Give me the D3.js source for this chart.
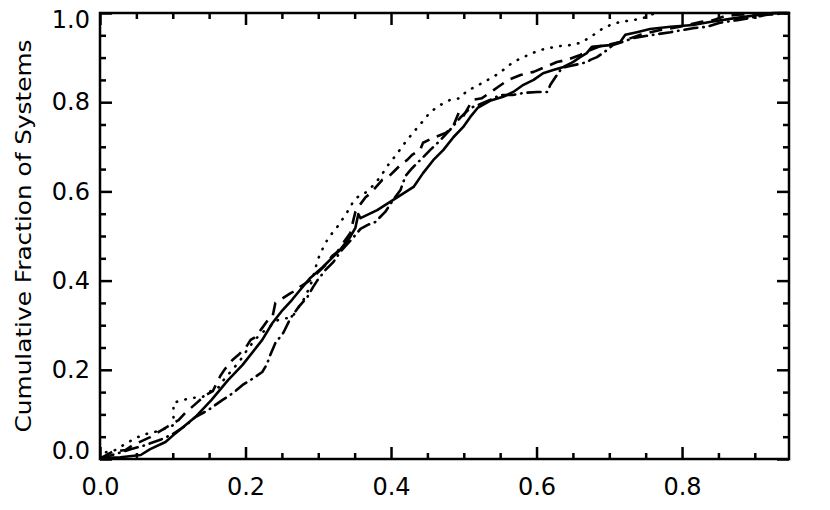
<!DOCTYPE html>
<html>
<head>
<meta charset="utf-8">
<script src="https://cdn.jsdelivr.net/npm/d3@7"></script>
<style>
  body { margin: 0; background: #fff; }
  svg text { font-family: 'DejaVu Sans', sans-serif; font-weight: normal; fill: #000; }
</style>
</head>
<body>
<svg id="chart" width="830" height="510"></svg>
<script>
// cumulative fraction curves
const solidX = [0.001,0.028,0.056,0.069,0.090,0.104,0.131,0.153,0.176,0.196,0.223,0.237,0.251,0.264,0.275,0.289,0.306,0.330,0.344,0.351,0.355,0.358,0.381,0.409,0.431,0.444,0.458,0.472,0.486,0.499,0.509,0.519,0.536,0.554,0.568,0.582,0.596,0.609,0.623,0.637,0.650,0.660,0.669,0.676,0.701,0.715,0.722,0.738,0.756,0.784,0.815,0.838,0.875,0.907,0.925,0.947]
const solidY = [0.002,0.004,0.009,0.022,0.038,0.058,0.094,0.132,0.177,0.211,0.267,0.305,0.334,0.357,0.379,0.406,0.430,0.469,0.498,0.518,0.549,0.540,0.558,0.587,0.610,0.641,0.670,0.693,0.722,0.744,0.767,0.787,0.803,0.812,0.823,0.839,0.850,0.865,0.872,0.879,0.890,0.901,0.910,0.924,0.928,0.935,0.951,0.957,0.964,0.969,0.973,0.980,0.989,0.996,1.0,1.0]

const dashedX = [0.001,0.017,0.035,0.045,0.069,0.090,0.108,0.117,0.131,0.145,0.155,0.166,0.171,0.182,0.190,0.200,0.207,0.214,0.223,0.231,0.237,0.241,0.248,0.262,0.271,0.275,0.289,0.296,0.310,0.319,0.326,0.334,0.344,0.351,0.355,0.365,0.372,0.388,0.396,0.406,0.416,0.422,0.429,0.440,0.444,0.458,0.475,0.485,0.493,0.498,0.512,0.525,0.541,0.547,0.561,0.578,0.596,0.609,0.628,0.642,0.660,0.674,0.688,0.697,0.715,0.742,0.770,0.797,0.825,0.843,0.859,0.876,0.907,0.935,0.947]
const dashedY = [0.002,0.016,0.020,0.031,0.049,0.070,0.087,0.103,0.123,0.143,0.152,0.188,0.200,0.222,0.233,0.249,0.267,0.274,0.294,0.312,0.318,0.350,0.357,0.372,0.379,0.386,0.401,0.413,0.435,0.455,0.464,0.484,0.507,0.554,0.565,0.587,0.596,0.626,0.632,0.648,0.664,0.670,0.682,0.693,0.709,0.720,0.731,0.744,0.776,0.765,0.805,0.809,0.827,0.834,0.850,0.861,0.868,0.877,0.890,0.895,0.906,0.917,0.926,0.928,0.935,0.951,0.962,0.969,0.980,0.984,0.993,0.996,0.998,1.0,1.0]

const dottedX = [0.001,0.003,0.021,0.039,0.058,0.076,0.093,0.101,0.101,0.113,0.127,0.141,0.148,0.155,0.163,0.172,0.182,0.193,0.204,0.215,0.227,0.245,0.264,0.275,0.282,0.292,0.299,0.307,0.314,0.326,0.340,0.347,0.354,0.364,0.376,0.385,0.396,0.409,0.420,0.431,0.443,0.454,0.468,0.481,0.495,0.505,0.516,0.527,0.541,0.554,0.568,0.582,0.594,0.605,0.619,0.633,0.646,0.660,0.674,0.688,0.701,0.715,0.733,0.747,0.763]
const dottedY = [0.002,0.013,0.020,0.038,0.054,0.061,0.070,0.076,0.126,0.132,0.137,0.139,0.148,0.155,0.161,0.182,0.200,0.222,0.249,0.271,0.289,0.312,0.318,0.345,0.363,0.401,0.446,0.475,0.496,0.520,0.554,0.574,0.587,0.596,0.614,0.632,0.659,0.686,0.711,0.733,0.756,0.778,0.794,0.805,0.809,0.827,0.834,0.845,0.857,0.872,0.890,0.901,0.910,0.917,0.922,0.926,0.928,0.933,0.946,0.962,0.973,0.980,0.984,0.989,1.0]

const dashDotX = [0.001,0.021,0.042,0.062,0.083,0.100,0.117,0.131,0.149,0.168,0.183,0.196,0.207,0.223,0.229,0.234,0.241,0.252,0.262,0.273,0.285,0.293,0.299,0.310,0.321,0.330,0.341,0.351,0.358,0.368,0.378,0.392,0.403,0.413,0.420,0.429,0.440,0.454,0.468,0.481,0.495,0.509,0.523,0.536,0.550,0.567,0.583,0.601,0.615,0.619,0.628,0.635,0.646,0.670,0.674,0.683,0.697,0.705,0.725,0.733,0.760,0.784,0.815,0.834,0.852,0.876,0.907,0.917,0.947]
const dashDotY = [0.002,0.011,0.022,0.031,0.043,0.056,0.074,0.094,0.110,0.132,0.148,0.166,0.177,0.195,0.211,0.233,0.260,0.283,0.316,0.341,0.363,0.386,0.401,0.424,0.442,0.464,0.484,0.502,0.516,0.525,0.531,0.554,0.581,0.603,0.635,0.652,0.670,0.693,0.715,0.738,0.765,0.787,0.796,0.805,0.816,0.816,0.821,0.823,0.823,0.839,0.861,0.877,0.881,0.890,0.895,0.901,0.917,0.928,0.939,0.944,0.951,0.957,0.966,0.969,0.978,0.984,0.993,0.996,1.0]

const xMajor = [0, 0.2, 0.4, 0.6, 0.8]
const xMinor = [0.05,0.1,0.15,0.25,0.3,0.35,0.45,0.5,0.55,0.65,0.7,0.75,0.85,0.9]
const yMajor = [0, 0.2, 0.4, 0.6, 0.8, 1.0]
const yMinor = [0.05,0.1,0.15,0.25,0.3,0.35,0.45,0.5,0.55,0.65,0.7,0.75,0.85,0.9,0.95]
const yTitle = 'Cumulative Fraction of Systems'

const plotLeft = 100, plotTop = 13, plotRight = 789, plotBottom = 459

const svg = d3.select('#chart')

const x = d3.scaleLinear().domain([0, 0.947]).range([plotLeft, plotRight])
const y = d3.scaleLinear().domain([0, 1]).range([plotBottom, plotTop])

const fmt = d3.format('.1f')

function drawAxis(axis, tx, ty){
    const g = svg.append('g')
        .attr('transform', 'translate(' + tx + ',' + ty + ')')
        .call(axis)
    g.select('.domain').remove()
    g.selectAll('line').attr('stroke', '#000').attr('stroke-width', 2.5)
    g.selectAll('text').attr('font-size', 24).attr('fill', '#000')
    return g
}

// bottom
drawAxis(d3.axisBottom(x).tickValues(xMajor).tickSize(-12).tickPadding(19).tickFormat(fmt), 0, plotBottom)
drawAxis(d3.axisBottom(x).tickValues(xMinor).tickSize(-6).tickFormat(''), 0, plotBottom)
// top
drawAxis(d3.axisTop(x).tickValues(xMajor).tickSize(-12).tickFormat(''), 0, plotTop)
drawAxis(d3.axisTop(x).tickValues(xMinor).tickSize(-6).tickFormat(''), 0, plotTop)
// left
let gl = drawAxis(d3.axisLeft(y).tickValues(yMajor).tickSize(-12).tickPadding(10).tickFormat(fmt), plotLeft, 0)
gl.selectAll('.tick text')
    .attr('dy', d => d == 0 ? '-0.02em' : (d == 1 ? '0.6em' : '0.32em'))
drawAxis(d3.axisLeft(y).tickValues(yMinor).tickSize(-6).tickFormat(''), plotLeft, 0)
// right
drawAxis(d3.axisRight(y).tickValues(yMajor).tickSize(-12).tickFormat(''), plotRight, 0)
drawAxis(d3.axisRight(y).tickValues(yMinor).tickSize(-6).tickFormat(''), plotRight, 0)

svg.append('rect')
    .attr('x', plotLeft)
    .attr('y', plotTop)
    .attr('width', plotRight - plotLeft)
    .attr('height', plotBottom - plotTop)
    .attr('fill', 'none')
    .attr('stroke', '#000')
    .attr('stroke-width', 2.5)

svg.append('text')
    .attr('transform', 'translate(31,236) rotate(-90)')
    .attr('text-anchor', 'middle')
    .attr('font-size', 22)
    .attr('textLength', 393)
    .attr('lengthAdjust', 'spacingAndGlyphs')
    .text(yTitle)

const line = d3.line()
    .x(d => x(d[0]))
    .y(d => y(d[1]))

const series = [
    {xs: solidX, ys: solidY, dash: null, cap: 'butt'},
    {xs: dashedX, ys: dashedY, dash: '13,8', cap: 'butt'},
    {xs: dottedX, ys: dottedY, dash: '0.5,8.5', cap: 'round'},
    {xs: dashDotX, ys: dashDotY, dash: '13,6,0.5,6', cap: 'round'}
]

series.forEach(s => {
    svg.append('path')
        .datum(d3.zip(s.xs, s.ys))
        .attr('d', line)
        .attr('fill', 'none')
        .attr('stroke', '#000')
        .attr('stroke-width', 2.6)
        .attr('stroke-linejoin', 'round')
        .attr('stroke-linecap', s.cap)
        .attr('stroke-dasharray', s.dash)
})
</script>
</body>
</html>
